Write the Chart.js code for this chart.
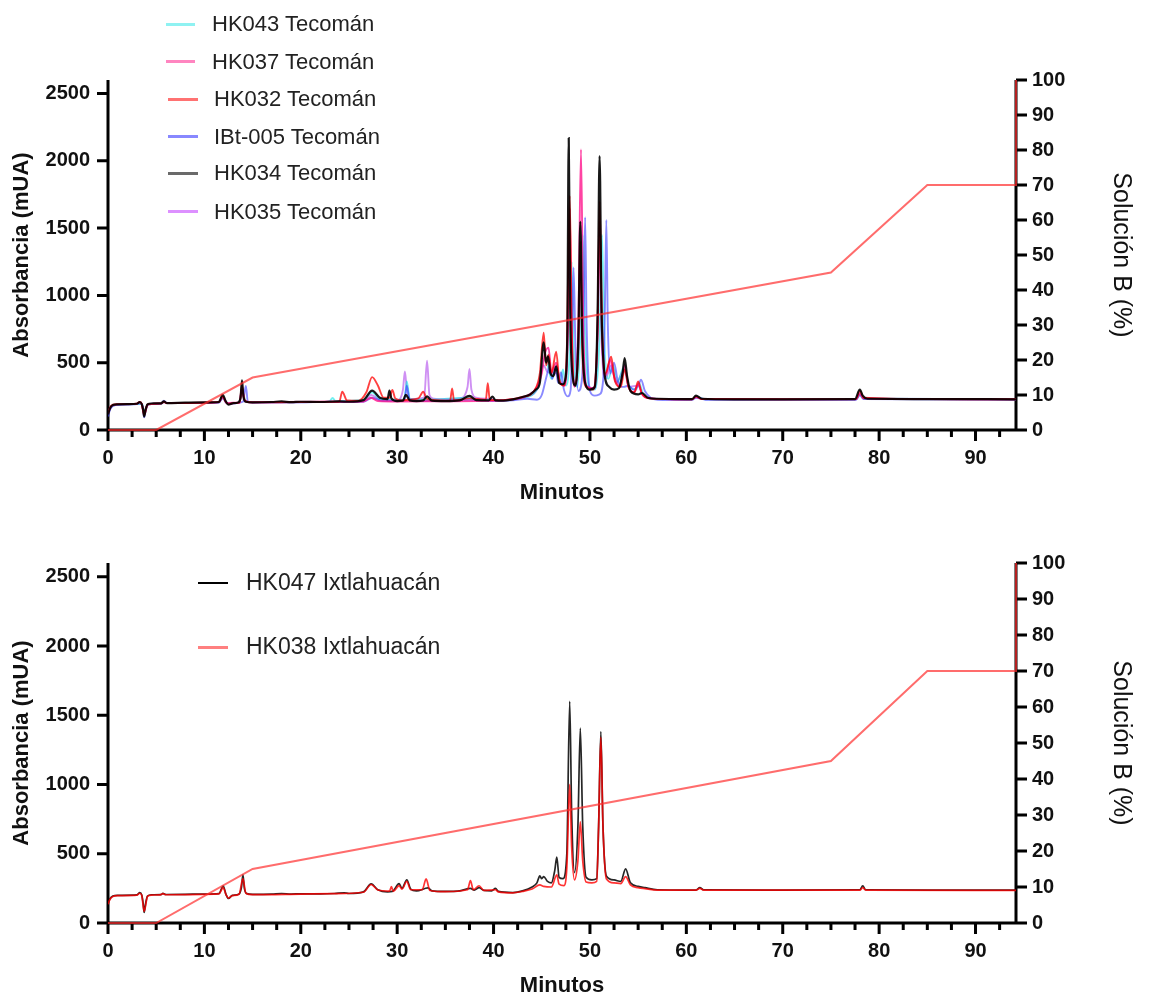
<!DOCTYPE html>
<html><head><meta charset="utf-8">
<script src="https://cdn.jsdelivr.net/npm/chart.js@4.4.1/dist/chart.umd.min.js"></script>
<style>
html,body{margin:0;padding:0;background:#fff;width:1160px;height:997px;overflow:hidden;font-family:"Liberation Sans",Arial,sans-serif;}
#c1{position:absolute;left:0;top:0;}
#c2{position:absolute;left:0;top:508px;}
.lgtxt{position:absolute;color:#222;white-space:nowrap;}
.lgline{position:absolute;}
</style>
</head><body>
<canvas id="c1" width="1160" height="508"></canvas>
<canvas id="c2" width="1160" height="489"></canvas>
<div id="legends"></div>
<script>
// ---------- DATA ----------
const minuteTicks = [0,2.5,5,7.5,10,12.5,15,17.5,20,22.5,25,27.5,30,32.5,35,37.5,40,42.5,45,47.5,50,52.5,55,57.5,60,62.5,65,67.5,70,72.5,75,77.5,80,82.5,85,87.5,90,92.5];
const absTicks = [0,500,1000,1500,2000,2500];
const solTicks = [0,10,20,30,40,50,60,70,80,90,100];

// gradient (Solución B %)
const gradMin = [0,5,15,75,85,94.2,94.2];
const gradPct = [0,0,15,45,70,70,100];

// series names
const namesTop = ['HK043 Tecomán','HK037 Tecomán','HK032 Tecomán','IBt-005 Tecomán','HK034 Tecomán','HK035 Tecomán'];
const namesBottom = ['HK047 Ixtlahuacán','HK038 Ixtlahuacán'];

// [minutes, mUA]
const hk043 = [[0,120],[0.3,170],[1,188],[3,193],[3.55,192],[3.75,130],[4.1,188],[5.5,195],[5.8,210],[6.1,200],[11.5,203],[11.9,240],[12.3,200],[13.6,203],[13.9,290],[14.3,215],[15,205],[22,208],[23.0,215],[23.3,239],[23.6,215],[26.5,225],[27.4,280],[28.2,230],[30.5,225],[30.75,228],[31.0,360],[31.3,230],[33,225],[37.5,240],[38.2,225],[41,220],[43,240],[44.5,300],[45.2,520],[45.6,480],[46,380],[46.5,450],[46.9,350],[47.2,450],[47.5,330],[47.9,600],[48.1,1250],[48.3,600],[48.7,320],[49.0,700],[49.25,1450],[49.5,700],[49.9,320],[50.5,300],[51.0,700],[51.25,1450],[51.5,650],[51.9,380],[52.4,480],[52.8,350],[53.6,480],[54.0,330],[54.8,300],[55.1,350],[55.5,270],[56.3,235],[60,228],[60.6,228],[61,245],[62,228],[77.6,228],[78,260],[78.4,232],[94.2,228]];
const hk037 = [[0,125],[0.3,175],[1,190],[3,196],[3.3,206],[3.5,194],[3.75,120],[4.1,188],[5.5,196],[5.8,208],[6.1,200],[11.5,206],[11.9,245],[12.3,200],[13,202],[13.65,203],[13.9,300],[14.2,215],[15,206],[22,210],[26.5,212],[27.3,240],[28,215],[30,212],[35,214],[40,216],[42,228],[43.5,255],[44.5,320],[45.0,420],[45.3,560],[45.7,612],[46.0,430],[46.5,500],[46.9,350],[47.4,330],[47.7,700],[47.9,1650],[48.1,700],[48.4,320],[48.8,800],[49.07,2084],[49.3,800],[49.6,330],[50.4,310],[50.8,750],[51.0,1550],[51.25,700],[51.6,400],[52.1,520],[52.5,400],[53.1,320],[53.6,480],[54.0,320],[54.6,280],[55.0,340],[55.4,265],[56.2,235],[60,228],[60.6,228],[61.0,245],[61.6,230],[70,228],[77.6,228],[78.0,270],[78.4,235],[94.2,228]];
const hk032 = [[0,120],[0.2,165],[0.5,188],[1,192],[3,196],[3.3,208],[3.5,193],[3.75,110],[4.1,190],[5.5,198],[5.8,210],[6.1,200],[11.5,208],[11.9,250],[12.2,212],[12.5,192],[13,200],[13.65,203],[13.9,330],[14.1,240],[14.4,210],[15,205],[20,208],[23.5,210],[24.0,212],[24.3,284],[24.8,220],[26,218],[26.8,280],[27.4,393],[28.0,330],[28.6,240],[29.2,240],[29.5,298],[29.8,235],[30.5,220],[31.2,225],[32.2,235],[32.7,284],[33.1,230],[35.3,218],[35.5,220],[35.7,308],[35.9,220],[37.5,235],[39.2,225],[39.4,348],[39.6,225],[41,222],[43,245],[44.3,300],[44.8,420],[45.2,723],[45.45,480],[45.7,560],[46.0,420],[46.5,582],[46.8,380],[47.3,330],[47.6,600],[47.9,1741],[48.1,800],[48.4,340],[48.8,600],[49.0,1400],[49.2,600],[49.6,320],[50.4,300],[50.8,800],[51.0,1700],[51.25,800],[51.6,420],[52.2,545],[52.6,360],[53.2,320],[53.6,450],[54.0,320],[54.6,280],[55.0,360],[55.4,270],[56.2,235],[60,228],[60.6,228],[61.0,250],[61.6,230],[70,228],[77.6,230],[78.0,290],[78.4,240],[85,230],[94.2,228]];
const ibt005 = [[0,100],[0.2,150],[0.5,180],[1,188],[3,192],[3.3,205],[3.5,190],[3.65,140],[3.75,95],[3.9,140],[4.1,185],[4.5,195],[5.5,197],[5.8,218],[6.1,200],[11.5,205],[11.95,240],[12.3,205],[12.6,192],[13,198],[14.0,210],[14.3,328],[14.5,215],[15,203],[20,206],[23,210],[26.6,212],[27.4,240],[28.5,215],[30.5,220],[30.75,222],[31.0,330],[31.3,225],[33,215],[37.5,225],[40,215],[42,220],[43.5,232],[44.5,225],[45.0,260],[45.5,400],[45.8,470],[46.1,380],[46.4,470],[46.7,350],[47.0,430],[47.3,300],[47.7,250],[48.0,300],[48.15,700],[48.3,1207],[48.5,600],[48.8,290],[49.2,400],[49.35,900],[49.5,1580],[49.65,800],[50.0,290],[50.5,255],[51.0,265],[51.4,400],[51.55,900],[51.7,1560],[51.85,800],[52.1,420],[52.5,500],[52.9,360],[53.5,320],[54.0,330],[54.5,300],[55.0,330],[55.3,373],[55.7,290],[56.3,240],[57,225],[60,222],[60.6,224],[61,240],[62,225],[70,225],[77.6,225],[78.0,265],[78.4,230],[94.2,225]];
const hk034 = [[0,115],[0.2,160],[0.5,185],[1,190],[2,192],[3,195],[3.3,208],[3.5,192],[3.65,150],[3.75,100],[3.9,150],[4.1,190],[4.5,197],[5.5,198],[5.8,212],[6.1,200],[8,203],[10,205],[11.5,208],[11.9,262],[12.2,215],[12.5,188],[12.9,198],[13.5,205],[13.75,240],[13.9,368],[14.05,250],[14.3,210],[15,205],[17,208],[18,212],[19,207],[20,210],[22,208],[24,212],[25,210],[26.5,222],[27.4,293],[28.2,240],[29,230],[29.2,293],[29.4,235],[30,215],[30.6,218],[30.9,262],[31.3,220],[32,215],[32.7,220],[33.1,250],[33.6,218],[35,215],[36.5,220],[37.5,254],[38.2,222],[39.5,220],[39.9,249],[40.2,220],[41,218],[42,228],[43,245],[43.8,265],[44.4,300],[44.8,350],[45.2,651],[45.45,500],[45.65,547],[45.9,420],[46.2,400],[46.5,472],[46.8,350],[47.2,340],[47.45,380],[47.65,700],[47.8,2169],[47.95,900],[48.2,400],[48.5,330],[48.8,700],[49.0,1547],[49.2,700],[49.5,350],[50.0,300],[50.5,320],[50.8,900],[51.0,2035],[51.2,900],[51.5,420],[52.0,320],[52.5,300],[53.0,310],[53.4,430],[53.6,535],[53.85,400],[54.2,290],[55.0,265],[55.4,275],[56,240],[57,232],[60,230],[60.6,230],[61.0,255],[61.6,232],[65,228],[70,228],[77.5,230],[78.0,300],[78.3,255],[78.8,232],[85,230],[94.2,228]];
const hk035 = [[0,118],[0.3,168],[1,188],[3,194],[3.55,192],[3.75,125],[4.1,188],[5.5,196],[5.8,210],[6.1,200],[11.5,203],[11.9,245],[12.3,198],[13.6,202],[13.9,300],[14.2,212],[15,205],[22,208],[26.5,212],[27.3,260],[28.2,225],[30,222],[30.6,300],[30.8,435],[31.0,300],[31.4,230],[32.8,240],[33.1,515],[33.35,260],[33.8,232],[35,228],[36.5,235],[37.3,320],[37.5,453],[37.7,300],[38.2,240],[39.5,232],[40.5,222],[42,225],[43.5,250],[44.5,300],[45.2,480],[45.6,430],[46.5,420],[47.3,330],[47.7,700],[47.9,1400],[48.1,700],[48.5,330],[48.85,700],[49.05,1300],[49.3,650],[49.7,320],[50.6,310],[50.8,700],[51.0,1500],[51.2,700],[51.6,380],[52.2,480],[52.7,350],[53.6,450],[54.0,320],[55,330],[55.5,260],[56.5,235],[60,228],[60.6,228],[61,245],[62,228],[77.6,228],[78,260],[78.4,232],[94.2,228]];

const hk047 = [[0,141],[0.2,175],[0.5,195],[1,200],[3,203],[3.3,219],[3.5,202],[3.65,140],[3.75,76],[3.9,140],[4.1,195],[4.5,204],[5.5,205],[5.7,214],[6.0,206],[8,207],[10,209],[11.5,212],[11.95,267],[12.25,205],[12.5,177],[12.9,200],[13.6,210],[13.85,260],[14.0,347],[14.15,250],[14.4,212],[15,207],[17,209],[18,213],[19,209],[20,211],[22,210],[23.5,213],[24.5,218],[25,213],[26.5,225],[27.3,282],[28,240],[29,225],[29.5,228],[30.2,284],[30.5,250],[31.0,311],[31.4,245],[32,232],[33.2,253],[33.6,232],[35,228],[36.5,232],[37.6,250],[38.0,238],[38.5,255],[39.0,235],[39.8,232],[40.2,250],[40.5,228],[42,220],[43,232],[44,260],[44.5,290],[44.8,340],[45.0,320],[45.2,335],[45.6,300],[46.0,290],[46.35,380],[46.56,476],[46.8,330],[47.2,320],[47.6,500],[47.9,1601],[48.1,800],[48.4,364],[48.75,700],[49.0,1407],[49.25,700],[49.6,330],[50.2,311],[50.7,320],[50.9,700],[51.13,1383],[51.35,700],[51.7,340],[52.5,311],[53.2,300],[53.7,391],[54.2,290],[55,265],[55.7,255],[57,240],[60,238],[61.0,238],[61.4,255],[61.8,240],[70,238],[78.0,240],[78.3,269],[78.6,240],[85,238],[94.2,238]];
const hk038 = [[0,135],[0.2,170],[0.5,192],[1,198],[3,201],[3.3,215],[3.5,200],[3.75,85],[4.1,192],[4.5,202],[5.4,203],[5.7,212],[6.0,204],[11.5,210],[11.95,255],[12.25,203],[12.5,180],[12.9,198],[13.6,208],[14.0,320],[14.3,215],[15,205],[20,209],[23.5,212],[26.5,222],[27.3,278],[28,238],[29.2,230],[29.4,262],[29.6,228],[30.2,270],[30.5,245],[31.0,300],[31.4,240],[32.6,240],[33.0,318],[33.4,235],[35,226],[37.3,240],[37.6,306],[37.9,240],[38.5,269],[39,235],[40.2,240],[40.5,225],[42,218],[43,228],[44,245],[44.8,275],[45.2,265],[46.0,260],[46.56,347],[46.8,280],[47.3,270],[47.6,400],[47.9,1002],[48.1,550],[48.4,311],[48.75,450],[49.0,730],[49.25,450],[49.6,296],[50.2,290],[50.7,300],[50.9,700],[51.13,1342],[51.35,700],[51.7,320],[52.5,290],[53.2,285],[53.7,335],[54.2,275],[55,255],[55.7,248],[57,238],[61.0,237],[61.4,250],[61.8,238],[78.0,237],[78.3,255],[78.6,238],[94.2,236]];

// ---------- STYLE ----------
const FONT = '"Liberation Sans", Arial, sans-serif';
const topStyles = [
  {data:hk043, color:'rgba(0,225,225,0.55)', legend:'#8ff2f2', w:1.9, order:5},
  {data:hk037, color:'rgba(255,20,140,0.8)', legend:'#ff85c0', w:1.9, order:3},
  {data:hk032, color:'rgba(255,0,0,0.75)', legend:'#ff7272', w:1.9, order:2},
  {data:ibt005, color:'rgba(60,60,255,0.6)', legend:'#8888ff', w:1.9, order:4},
  {data:hk034, color:'rgba(0,0,0,0.9)', legend:'#6a6a6a', w:2.2, order:1},
  {data:hk035, color:'rgba(175,70,235,0.6)', legend:'#dd90ff', w:1.9, order:6}
];
const bottomStyles = [
  {data:hk047, color:'rgba(0,0,0,0.85)', legend:'#000', w:1.7, order:2, lw:1.5},
  {data:hk038, color:'rgba(255,0,0,0.8)', legend:'#ff8080', w:1.7, order:1, lw:3}
];

const axesPlugin = {
  id:'axesDraw',
  beforeDatasetsDraw(chart){
    const {ctx, chartArea:a} = chart;
    const sx = chart.scales.x, sy = chart.scales.y, sr = chart.scales.y2;
    ctx.save();
    ctx.strokeStyle = '#000'; ctx.lineWidth = 3; ctx.lineCap = 'butt';
    ctx.beginPath();
    ctx.moveTo(a.left, a.top); ctx.lineTo(a.left, a.bottom + 1.5);
    ctx.moveTo(a.right, a.top); ctx.lineTo(a.right, a.bottom + 1.5);
    ctx.moveTo(a.left - 1.5, a.bottom); ctx.lineTo(a.right + 1.5, a.bottom);
    sx.ticks.forEach(t => { const p = sx.getPixelForValue(t.value); const L = (t.value % 10 === 0) ? 11 : 7; ctx.moveTo(p, a.bottom); ctx.lineTo(p, a.bottom + L); });
    sy.ticks.forEach(t => { const p = sy.getPixelForValue(t.value); ctx.moveTo(a.left, p); ctx.lineTo(a.left - 11, p); });
    sr.ticks.forEach(t => { const p = sr.getPixelForValue(t.value); ctx.moveTo(a.right, p); ctx.lineTo(a.right + 11, p); });
    ctx.stroke();
    ctx.restore();
  }
};

function toXY(arr){ return arr.map(p => ({x:p[0], y:p[1]})); }

function makeChart(canvas, styles, names, geo){
  const datasets = styles.map((s,i) => ({
    label: names[i], data: toXY(s.data), borderColor: s.color, borderWidth: s.w,
    pointRadius: 0, fill: false, cubicInterpolationMode: 'monotone', order: s.order, yAxisID: 'y'
  }));
  datasets.push({
    label: 'Solución B', data: gradMin.map((m,i) => ({x:m, y:gradPct[i]})), borderColor: 'rgba(255,45,45,0.7)',
    borderWidth: 2, pointRadius: 0, tension: 0, order: 0, yAxisID: 'y2', clip: 3
  });
  const tickFont = {family: FONT, size: 20, weight: 'bold'};
  const titleFont = {family: FONT, size: 22, weight: 'bold', lineHeight: 1};
  const plain = v => String(v);
  return new Chart(canvas, {
    type: 'line',
    data: {datasets},
    plugins: [axesPlugin],
    options: {
      responsive: false, animation: false, devicePixelRatio: 1,
      layout: {padding: {top: geo.top, left: 0, right: 0, bottom: 0}},
      plugins: {legend: {display: false}, tooltip: {enabled: false}},
      scales: {
        x: {
          type: 'linear', min: 0, max: 94.2, position: 'bottom',
          grid: {display: false, drawTicks: false}, border: {display: false},
          afterBuildTicks: sc => { sc.ticks = minuteTicks.map(v => ({value: v})); },
          afterFit: sc => { sc.height = geo.xh; },
          ticks: {autoSkip: false, maxRotation: 0, padding: 16, color: '#111', font: tickFont,
            callback: v => (v % 10 === 0 ? String(v) : '')},
          title: {display: true, text: 'Minutos', color: '#111', font: titleFont, padding: {top: 0, bottom: geo.tb}}
        },
        y: {
          type: 'linear', min: 0, max: 2600, position: 'left',
          grid: {display: false, drawTicks: false}, border: {display: false},
          afterBuildTicks: sc => { sc.ticks = absTicks.map(v => ({value: v})); },
          afterFit: sc => { sc.width = 108; },
          ticks: {padding: 18, color: '#111', font: tickFont, callback: plain},
          title: {display: true, text: 'Absorbancia (mUA)', color: '#111', font: titleFont, padding: {top: 11, bottom: 0}}
        },
        y2: {
          type: 'linear', min: 0, max: 100, position: 'right',
          grid: {display: false, drawTicks: false}, border: {display: false},
          afterBuildTicks: sc => { sc.ticks = solTicks.map(v => ({value: v})); },
          afterFit: sc => { sc.width = 144; },
          ticks: {padding: 16, color: '#111', font: tickFont, callback: plain},
          title: {display: true, text: 'Solución B (%)', color: '#111', font: {family: FONT, size: 25, weight: 'normal', lineHeight: 1}, padding: {top: 27, bottom: 0}}
        }
      }
    }
  });
}

makeChart(document.getElementById('c1'), topStyles, namesTop, {top: 80, xh: 78, tb: 4});
makeChart(document.getElementById('c2'), bottomStyles, namesBottom, {top: 55, xh: 74, tb: 0});

// ---------- LEGENDS (HTML text) ----------
const topLegendPos = [
  {y:24, x0:166, x1:195, tx:212}, {y:61.7, x0:166, x1:195, tx:212},
  {y:99.3, x0:168, x1:198, tx:214}, {y:136.7, x0:168, x1:198, tx:214},
  {y:173.3, x0:168, x1:198, tx:214}, {y:211.7, x0:168, x1:198, tx:214}
];
const bottomLegendPos = [{y:583, x0:198, x1:228, tx:246}, {y:647, x0:198, x1:228, tx:246}];
const host = document.getElementById('legends');
function addLegend(names, styles, pos, fontSize){
  names.forEach((n,i) => {
    const p = pos[i], s = styles[i];
    const lw = s.lw || 3;
    const line = document.createElement('div');
    line.className = 'lgline';
    line.style.cssText = `left:${p.x0}px;top:${(p.y - lw/2).toFixed(1)}px;width:${p.x1 - p.x0}px;height:${lw}px;background:${s.legend};`;
    host.appendChild(line);
    const t = document.createElement('div');
    t.className = 'lgtxt';
    t.textContent = n;
    t.style.cssText = `left:${p.tx}px;top:${(p.y - fontSize*0.6).toFixed(1)}px;font-size:${fontSize}px;line-height:${(fontSize*1.2).toFixed(1)}px;`;
    host.appendChild(t);
  });
}
addLegend(namesTop, topStyles, topLegendPos, 22);
addLegend(namesBottom, bottomStyles, bottomLegendPos, 23);
</script>
</body></html>
